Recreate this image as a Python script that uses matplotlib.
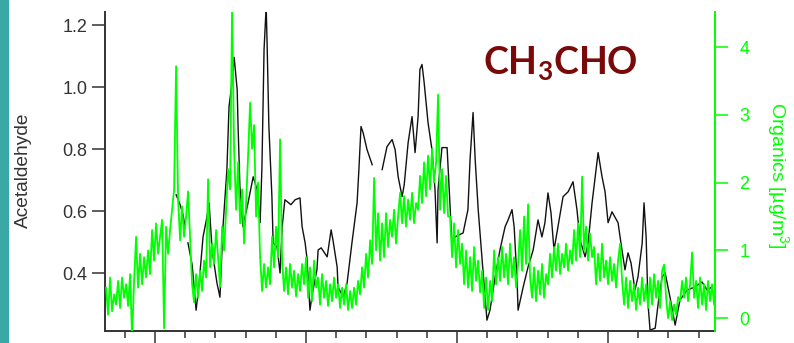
import numpy as np
import matplotlib
matplotlib.use("Agg")
import matplotlib.pyplot as plt
from matplotlib.patches import Rectangle
from matplotlib.ticker import MultipleLocator

plt.rcParams["font.family"] = ["Liberation Sans", "DejaVu Sans"]
plt.rcParams["mathtext.fontset"] = "custom"
plt.rcParams["mathtext.rm"] = "Liberation Sans"
plt.rcParams["mathtext.bf"] = "Lato:bold"

# ── Data (time in days) ────────────────────────────────────────────────────
acet_t = [0.70, 0.83, 0.93, 0.99, 1.04, 1.09, 1.23, 1.36, 1.46, 1.59, 1.72, 1.79, 1.89,
          2.05, 2.15, 2.25, 2.38, 2.45, 2.55, 2.62, 2.72, 2.75, 2.81, 2.91, 3.08, 3.25,
          3.38, 3.48, 3.54, 3.61, 3.68, 3.71, 3.77, 3.87, 3.91, 4.04, 4.14, 4.21, 4.30,
          4.50, 4.64, 4.80, 4.87, 4.97, 5.03, 5.13, 5.20, 5.36, 5.40, 5.50, 5.70, 5.83,
          5.89, 6.03, 6.06, 6.23, 6.36, 6.52, 6.69, 6.75, 6.82, 6.89, 7.02, 7.19, 7.35,
          7.52, 7.68, 7.85, 7.95, 8.05, 8.18, 8.25, 8.38, 8.51, 8.61, 8.71, 8.77, 8.84,
          8.91, 9.04, 9.17, 9.27, 9.34, 9.37, 9.50, 9.67, 9.74, 9.83, 9.93, 10.20, 10.36,
          10.43, 10.53, 10.60, 10.70, 10.83, 10.99, 11.09, 11.26, 11.42, 11.59, 11.69,
          11.82, 11.89, 11.99, 12.02, 12.19, 12.35, 12.52, 12.68, 12.81, 12.91, 13.01,
          13.11, 13.21, 13.34, 13.51, 13.68, 13.84, 13.97, 14.07, 14.24, 14.34, 14.47,
          14.60, 14.67, 14.80, 14.90, 15.00, 15.13, 15.33, 15.46, 15.56, 15.66, 15.76,
          15.89, 15.99, 16.13, 16.19, 16.26, 16.32, 16.39, 16.56, 16.66, 16.79, 16.89,
          17.05, 17.22, 17.38, 17.62, 17.88, 18.11, 18.28, 18.44]
acetaldehyde = [0.653, 0.621, 0.588, 0.550, np.nan, 0.498, 0.427, 0.281, 0.369, 0.517, 0.582,
                0.627, 0.475, 0.369, 0.323, 0.550, 0.734, 0.937, 1.015, 1.096, 0.992, 0.873,
                0.679, 0.550, 0.627, 0.711, 0.669, 0.563, 0.743, 1.121, 1.26, 1.144, 0.873,
                0.647, 0.498, 0.485, 0.401, 0.550, 0.637, 0.621, 0.637, 0.643, 0.550, 0.498,
                0.449, 0.281, 0.330, 0.411, 0.475, 0.482, 0.453, 0.540, 0.508, 0.420, 0.356,
                0.323, 0.369, 0.498, 0.627, 0.734, 0.873, 0.853, 0.798, 0.750, np.nan, 0.734,
                0.808, 0.831, 0.798, 0.711, 0.647, 0.685, 0.821, 0.905, 0.789, 0.905, 1.057,
                1.073, 1.015, 0.885, 0.798, 0.669, 0.498, 0.669, 0.805, 0.805, 0.669, 0.498,
                0.517, 0.530, 0.605, 0.766, 0.918, 0.766, 0.605, 0.443, 0.249, 0.281, 0.388,
                0.475, 0.550, 0.572, 0.605, 0.550, 0.369, 0.281, 0.356, 0.420, 0.475, 0.572,
                0.517, 0.563, 0.659, 0.595, 0.475, 0.550, 0.647, 0.663, 0.695, 0.605, 0.508,
                0.453, 0.498, 0.627, 0.734, 0.789, 0.711, 0.663, 0.563, 0.598, 0.563, 0.475,
                0.411, 0.466, 0.433, 0.346, 0.388, 0.498, 0.627, 0.517, 0.304, 0.217, 0.223,
                0.304, 0.388, 0.401, 0.323, 0.233, 0.314, 0.346, 0.356, 0.372, 0.346, 0.356]

# organics, evenly sampled from t=-1.62 to t=18.51 days
organics = [
    0.45, 0.05, 0.6, 0.1, 0.35,
    0.2, 0.55, 0.15, 0.6, 0.3, 0.5, 0.18, 0.65, -0.3, 0.55,
    1.2, 0.45, 0.95, 0.5, 0.9, 0.6, 1.0, 0.65,
    1.3, 0.85, 1.4, 0.95, 1.2, 1.45, -0.15, 1.35, 0.95, 1.3,
    1.6, 1.9, 3.72,
    1.75, 1.15, 1.65, 1.2, 1.5,
    1.87,
    1.2, 0.5, 0.23,
    0.65, 0.3, 0.7, 0.4, 0.85, 0.6,
    2.05, 0.75, 1.1,
    0.8, 1.3, 0.9, 0.46, 1.35, 1.0,
    1.6, 2.2, 1.9,
    4.6,
    2.5, 1.6, 2.3, 1.4, 1.9,
    1.1, 1.7,
    2.4, 3.18, 2.5, 2.85,
    1.5, 2.0,
    0.9, 0.4, 0.8, 0.45, 0.75, 0.5,
    1.2, 0.75, 1.35, 0.9, 2.64,
    0.85, 0.4, 0.75, 0.35, 0.8, 0.45, 0.7, 0.32, 0.65, 0.4, 0.8, 0.5,
    0.9, 0.3, 0.75, 0.25, 0.85, 0.45,
    0.6, 0.2, 0.65, 0.3, 0.55, 0.18, 0.5, 0.25, 0.6, 0.3,
    0.5, 0.15, 0.45, 0.2, 0.5, 0.12, 0.4, 0.15, 0.45,
    0.2, 0.55, 0.35, 0.75, 0.45, 0.95, 0.6, 1.15, 0.8,
    2.07,
    1.0, 1.55, 0.85, 1.4, 0.9,
    1.55, 1.05, 1.45, 1.2, 1.6, 1.1,
    1.5, 1.85, 1.4, 1.8, 1.35, 1.75, 1.45, 1.85, 1.4, 1.7,
    1.6, 2.1, 1.7, 2.3, 1.8, 2.4, 1.9, 2.5, 2.0, 2.3,
    3.3,
    1.6, 2.2, 1.55, 2.1, 1.5,
    1.5, 0.9, 1.4, 0.75, 1.3, 0.8, 1.1,
    0.5, 1.0, 0.45, 0.9, 0.4, 1.05, 0.55, 0.85, 0.38, 0.7,
    0.15, 0.6, 0.12, 0.55, 0.25,
    1.0, 0.5, 0.9, 0.55, 1.05, 0.6, 0.95,
    0.5, 1.1, 0.6, 0.9, 0.45, 0.8,
    1.3, 0.7, 1.5, 0.8, 1.68,
    0.6, 0.3, 0.75, 0.25, 0.7, 0.35, 0.8, 0.3, 0.65, 0.5,
    0.95, 0.6, 1.05, 0.7, 1.1, 0.65, 0.95, 0.75, 1.1, 0.7, 1.0, 0.8,
    1.3, 0.85, 1.4, 0.9, 2.09, 1.0, 1.35, 0.85, 1.25, 0.9,
    1.05, 0.5, 0.95, 0.55, 1.1, 0.6, 0.85,
    0.5, 0.9, 0.55, 0.8, 0.45, 0.85, 1.1, 0.55,
    0.2, 0.6, 0.15, 0.55, 0.25, 0.5, 0.12, 0.45, 0.2, 0.6, 0.25, 0.5, 0.15,
    0.6, 0.2, 0.65, 0.3, 0.55, 0.15, 0.7, 0.79,
    0.3, 0.0, 0.25, -0.03, 0.2, 0.05, 0.31,
    0.25, 0.55, 0.3, 0.6, 0.25, 0.5, 0.97,
    0.3, 0.55, 0.15, 0.6, 0.2, 0.5, 0.12, 0.55, 0.25, 0.5, 0.2,
]
org_t = np.linspace(-1.62, 18.51, len(organics))

GREEN = "#00ff00"
DARK = "#333333"

fig = plt.figure(figsize=(7.94, 3.43), dpi=100)
fig.patch.set_facecolor("white")
fig.patches.append(Rectangle((0, 0), 8 / 794, 1, transform=fig.transFigure,
                             color="#3aa9a6", zorder=0))

ax = fig.add_axes([105 / 794, 12 / 343, 610 / 794, 319 / 343])
ax2 = ax.twinx()

ax.plot(acet_t, acetaldehyde, color="#111111", lw=1.0)
ax2.plot(org_t, organics, color=GREEN, lw=1.3)

ax.set_xlim(-1.656, 18.54)
ax.set_ylim(0.214, 1.242)
ax2.set_ylim(-0.19, 4.52)

ax.set_yticks([0.4, 0.6, 0.8, 1.0, 1.2])
ax.set_yticklabels(["0.4", "0.6", "0.8", "1.0", "1.2"])
ax2.set_yticks([0, 1, 2, 3, 4])
ax.xaxis.set_major_locator(MultipleLocator(5))
ax.xaxis.set_minor_locator(MultipleLocator(1))

for sp in ("top", "right"):
    ax.spines[sp].set_visible(False)
for sp in ("top", "left", "bottom"):
    ax2.spines[sp].set_visible(False)
ax.spines["left"].set_color(DARK)
ax.spines["bottom"].set_color(DARK)
ax.spines["left"].set_linewidth(1.4)
ax.spines["bottom"].set_linewidth(1.4)
ax2.spines["right"].set_color(GREEN)
ax2.spines["right"].set_linewidth(1.4)

ax.tick_params(axis="y", direction="out", length=9.5, width=1.1, colors=DARK,
               labelsize=13, pad=3)
ax.tick_params(axis="x", which="major", direction="out", length=10, width=1.1,
               colors=DARK, labelbottom=False)
ax.tick_params(axis="x", which="minor", direction="out", length=4.7, width=1.1,
               colors=DARK)
ax2.tick_params(axis="y", direction="out", length=9.5, width=1.1, colors=GREEN,
                labelsize=13, pad=8)

fig.text(23 / 794, 1 - 170 / 343, "Acetaldehyde", rotation=90, ha="center",
         va="center", fontsize=13.8, color=DARK)
fig.text(777 / 794, 1 - 175 / 343, r"Organics [µg/m$^3$]", rotation=270,
         ha="center", va="center", fontsize=14, color=GREEN)
fig.text(560 / 794, 1 - 74 / 343, r"$\mathbf{CH_3CHO}$", ha="center",
         va="baseline", fontsize=27, color="#7a0a0a")

fig.savefig("out.png", dpi=100, facecolor="white")
